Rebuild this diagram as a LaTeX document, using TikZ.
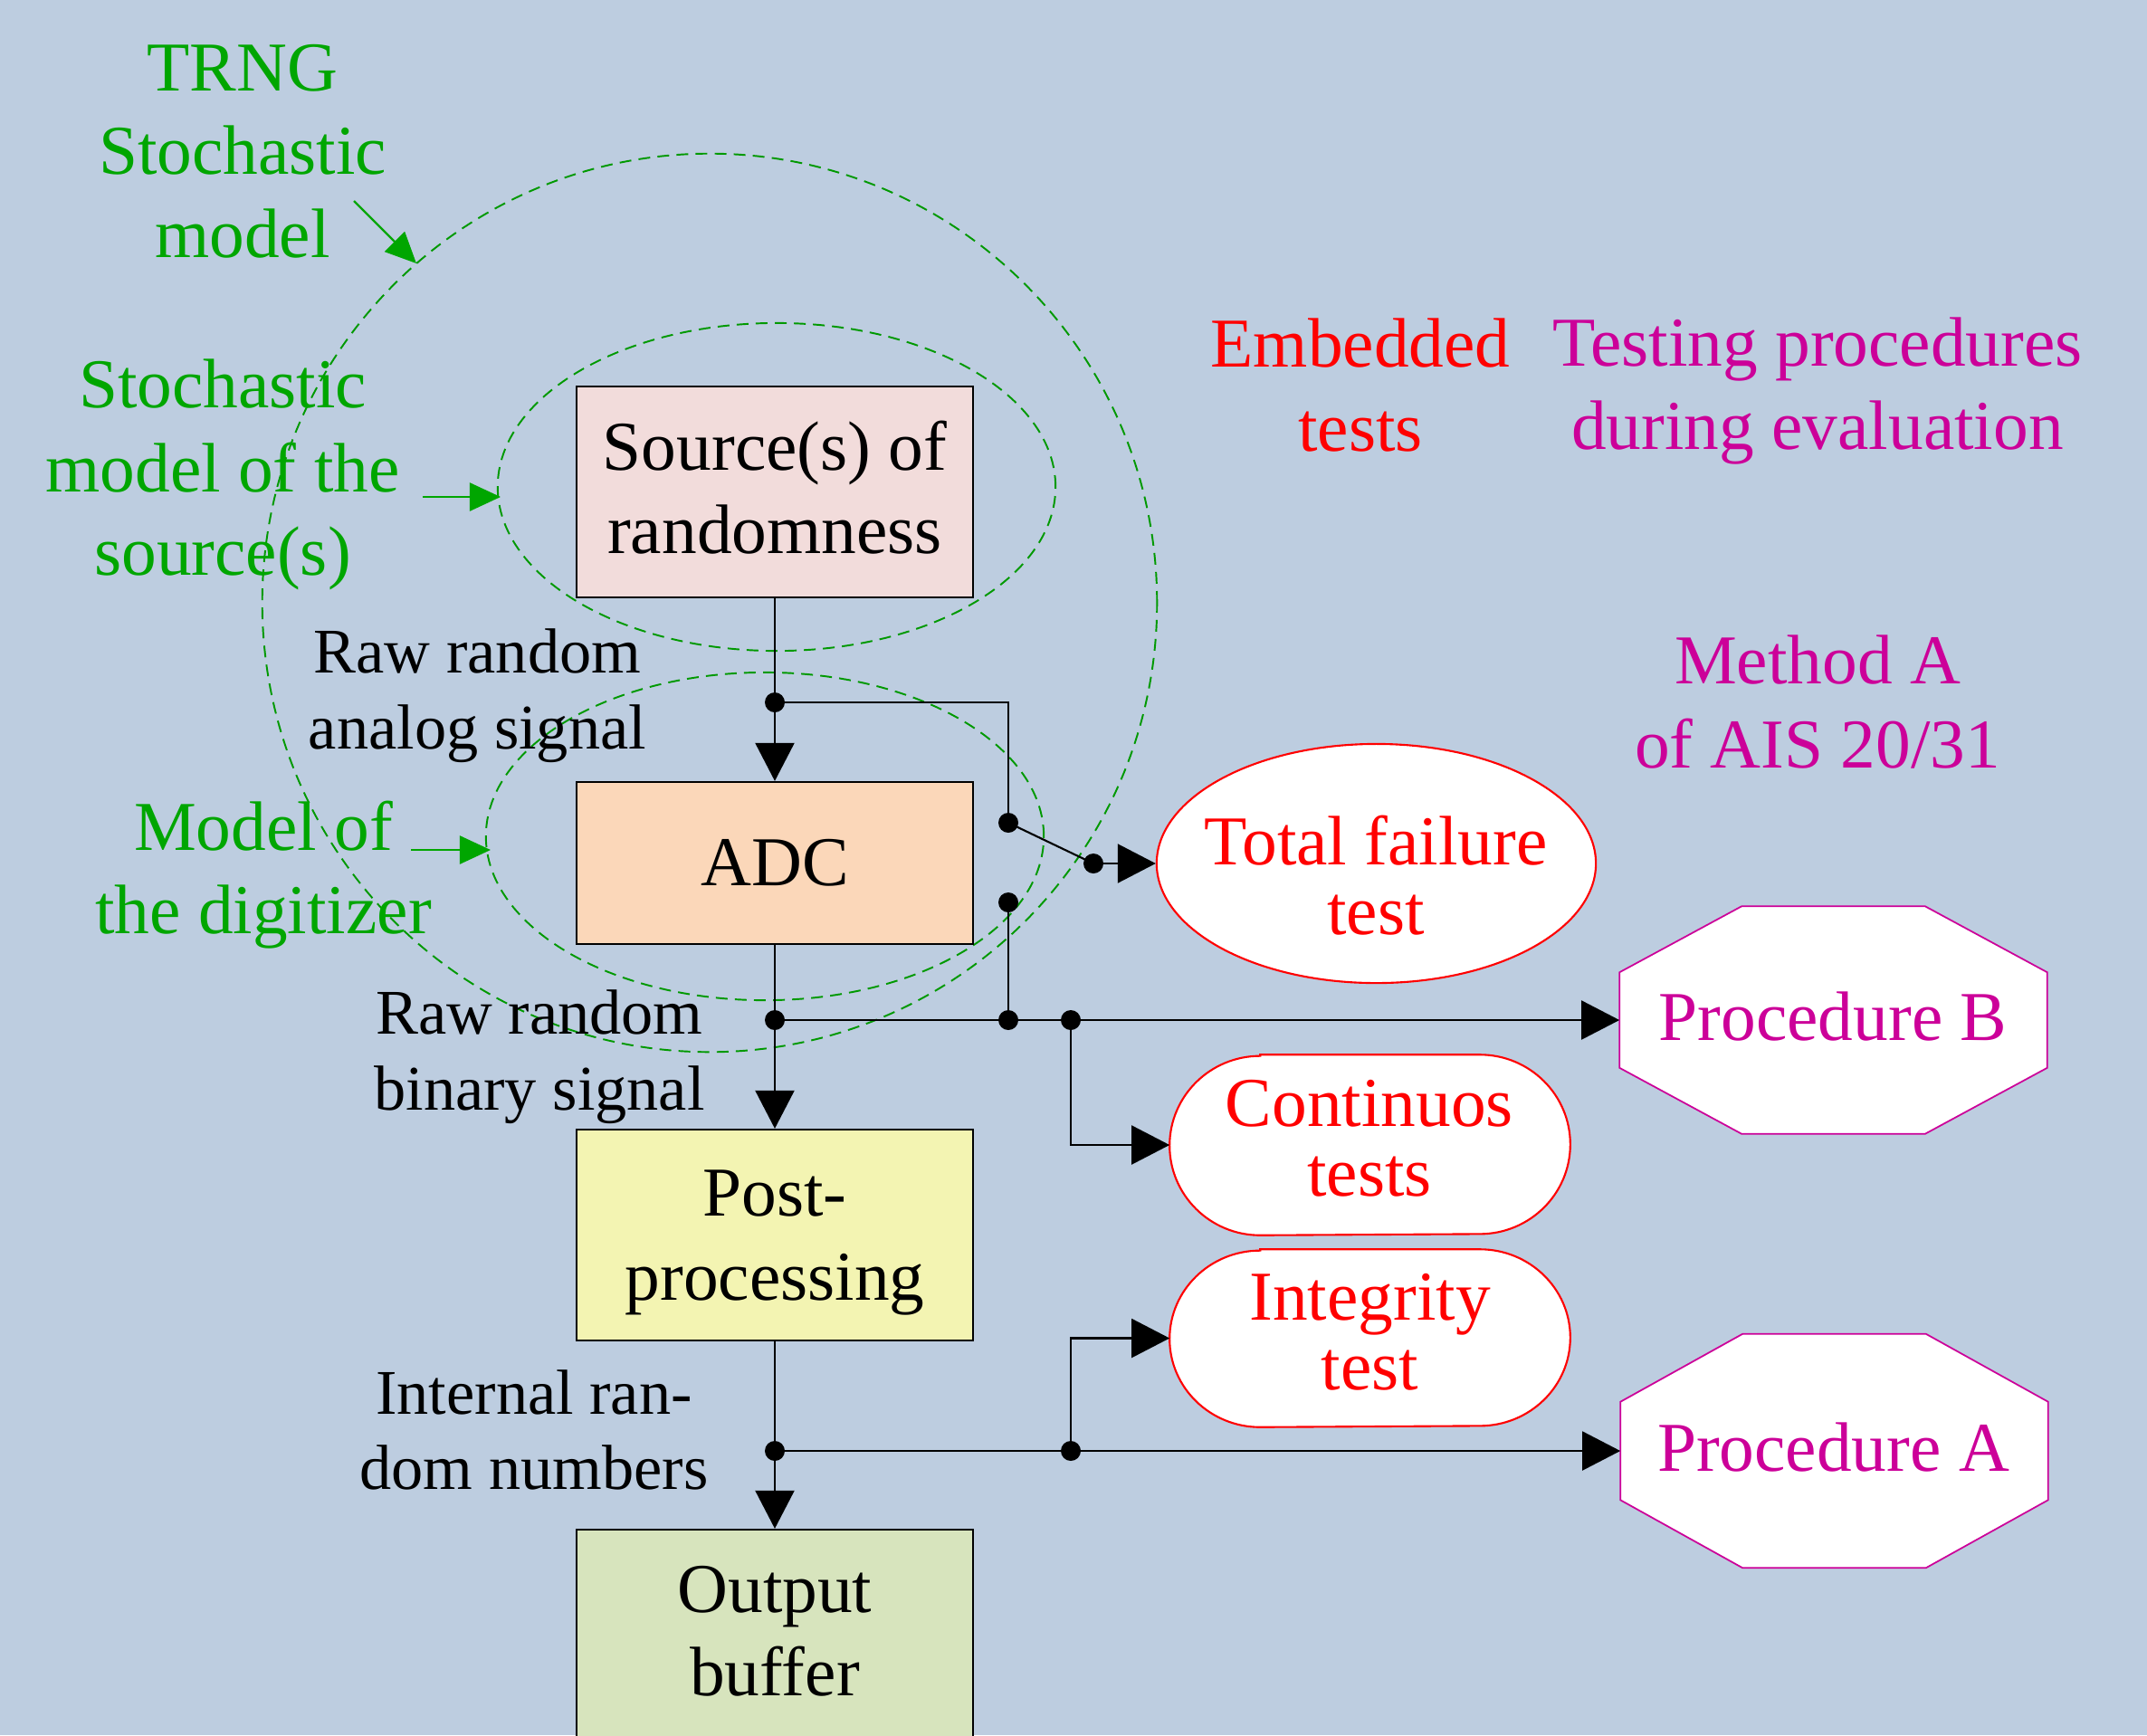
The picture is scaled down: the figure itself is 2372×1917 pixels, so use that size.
\documentclass[tikz,border=0pt]{standalone}
\usepackage{fontspec}
\setmainfont{Liberation Serif}
\usetikzlibrary{arrows.meta,shapes.geometric}
\definecolor{bgcol}{RGB}{189,205,224}
\definecolor{srcfill}{RGB}{242,220,219}
\definecolor{adcfill}{RGB}{251,215,185}
\definecolor{postfill}{RGB}{243,244,178}
\definecolor{buffill}{RGB}{215,228,189}
\definecolor{gtext}{RGB}{0,166,0}
\definecolor{gline}{RGB}{0,153,0}
\definecolor{magcol}{RGB}{204,0,153}
\newcommand{\octshape}[3]{%
  \draw[line width=0.5pt, draw=magcol, fill=white]
    ([xshift=#2]#1.north west) -- ([xshift=-#2]#1.north east) --
    ([yshift=-#3]#1.north east) -- ([yshift=#3]#1.south east) --
    ([xshift=-#2]#1.south east) -- ([xshift=#2]#1.south west) --
    ([yshift=#3]#1.south west) -- ([yshift=-#3]#1.north west) -- cycle;}
\newcommand{\stadshape}[3]{%
  \draw[line width=0.6pt, draw=red, fill=white]
    ([xshift=#2]#1.north west) -- ([xshift=-#2]#1.north east)
    arc[start angle=90, end angle=-90, x radius=#2, y radius=#3] --
    ([xshift=#2]#1.south west)
    arc[start angle=270, end angle=90, x radius=#2, y radius=#3] -- cycle;}
\begin{document}
\begin{tikzpicture}[x=0.01cm, y=-0.01cm,
  bigtxt/.style={font=\fontsize{22}{26.2}\selectfont, align=center, inner sep=0pt},
  labtxt/.style={font=\fontsize{20}{23.8}\selectfont, align=center, inner sep=0pt},
  redtxt/.style={text=red, font=\fontsize{22}{22}\selectfont, align=center, inner sep=0pt},
  grntxt/.style={bigtxt, text=gtext},
  magtxt/.style={bigtxt, text=magcol},
  boxnode/.style={draw=black, line width=0.6pt, minimum width=4.38cm, inner sep=0pt,
    font=\fontsize{22}{26.2}\selectfont, align=center},
  holder/.style={draw=none, inner sep=0pt, minimum width=#1},
  ln/.style={draw=black, line width=0.6pt},
  arr/.style={ln, -{Triangle[length=0.42cm, width=0.43cm]}},
  garr/.style={draw=gtext, line width=0.7pt, -{Triangle[length=0.34cm, width=0.31cm]}},
  gdash/.style={draw=gline, line width=0.55pt, dash pattern=on 3.7pt off 2.3pt}
]
\clip (0,0) rectangle (2372,1917);
\fill[bgcol] (0,0) rectangle (2372,1917);

% dashed model outlines
\draw[gdash] (784,666) ellipse [x radius=4.94cm, y radius=4.96cm];
\draw[gdash] (858,538) ellipse [x radius=3.08cm, y radius=1.81cm];
\draw[gdash] (845,924) ellipse [x radius=3.08cm, y radius=1.81cm];

% main chain
\node[boxnode, fill=srcfill, minimum height=2.33cm] (src) at (856,543.5) {};
\node[bigtxt] (srct) at (856,538.5) {Source(s) of\\randomness};
\node[boxnode, fill=adcfill, minimum height=1.79cm] (adc) at (856,953.5) {ADC};
\node[boxnode, fill=postfill, minimum height=2.33cm] (post) at (856,1364.5) {};
\node[bigtxt] (postt) at (856,1373) {Post-\\processing};
\node[boxnode, fill=buffill, minimum height=2.6cm] (outbuf) at (856,1820) {};
\node[bigtxt] (outbuft) at (856,1802.5) {Output\\buffer};

% embedded tests
\node[ellipse, draw=red, line width=0.6pt, fill=white, minimum width=4.85cm, minimum height=2.64cm, inner sep=0pt] (tft) at (1520.5,954) {};
\node[redtxt] (tftt) at (1520,967) {Total failure\\test};

\node[holder=4.41cm, minimum height=1.98cm] (cont) at (1513.5,1265) {};
\stadshape{cont}{1cm}{0.99cm}
\node[redtxt] (contt) at (1513,1257.5) {Continuos\\tests};

\node[holder=4.41cm, minimum height=1.95cm] (integ) at (1513.5,1478.5) {};
\stadshape{integ}{1cm}{0.975cm}
\node[redtxt] (integt) at (1513.5,1472) {Integrity\\test};

% evaluation procedures
\node[holder=4.71cm, minimum height=2.5cm] (procB) at (2025.5,1127) {};
\octshape{procB}{1.35cm}{0.73cm}
\node[magtxt] (procBt) at (2025,1123.5) {Procedure B};

\node[holder=4.71cm, minimum height=2.57cm] (procA) at (2026.5,1603) {};
\octshape{procA}{1.35cm}{0.75cm}
\node[magtxt] (procAt) at (2025.5,1599.5) {Procedure A};

% headings and labels
\node[grntxt] (trng) at (268,167) {TRNG\\Stochastic\\model};
\node[grntxt] (smsrc) at (246,524.5) {Stochastic\\model of the\\source(s)};
\node[grntxt] (mdig) at (291,966.5) {Model of\\the digitizer};
\node[labtxt] (rawa) at (527.5,768.5) {Raw random\\analog signal};
\node[labtxt] (rawb) at (596,1168) {Raw random\\binary signal};
\node[labtxt] (intr) at (590,1580) {Internal ran-\\dom numbers};
\node[bigtxt, text=red] (emb) at (1503,425.5) {Embedded\\tests};
\node[magtxt] (tproc) at (2008,432) {Testing procedures\\during evaluation};
\node[magtxt] (metha) at (2008,775.5) {Method A\\of AIS 20/31};

% green pointers
\coordinate (g1s) at (391,222); \coordinate (g1e) at (460,291);
\coordinate (g2s) at (467,549); \coordinate (g2e) at (553,549);
\coordinate (g3s) at (454,939); \coordinate (g3e) at (542,939);
\draw[garr] (g1s) -- (g1e);
\draw[garr] (g2s) -- (g2e);
\draw[garr] (g3s) -- (g3e);

% junctions
\coordinate (j1) at (856,776);
\coordinate (sw1) at (1114,909);
\coordinate (sw2) at (1208,954);
\coordinate (sw3) at (1114,997);
\coordinate (j2) at (1114,1127);
\coordinate (j3) at (856,1127);
\coordinate (j4) at (1183,1127);
\coordinate (j5) at (856,1603);
\coordinate (j6) at (1183,1603);

% connectors
\draw[arr] (src) -- (adc);
\draw[ln] (j1) -| (sw1);
\draw[ln] (sw1) -- (sw2);
\draw[arr] (sw2) -- (tft);
\draw[ln] (sw3) -- (j2);
\draw[arr] (adc) -- (post);
\draw[arr] (j3) -- (procB);
\draw[arr] (j4) |- (cont);
\draw[arr] (post) -- (outbuf);
\draw[arr] (j5) -- (procA);
\draw[arr] (j6) |- (integ);

\foreach \p in {j1,sw1,sw2,sw3,j2,j3,j4,j5,j6}
  \fill[black] (\p) circle[radius=0.11cm];
\end{tikzpicture}
\end{document}
